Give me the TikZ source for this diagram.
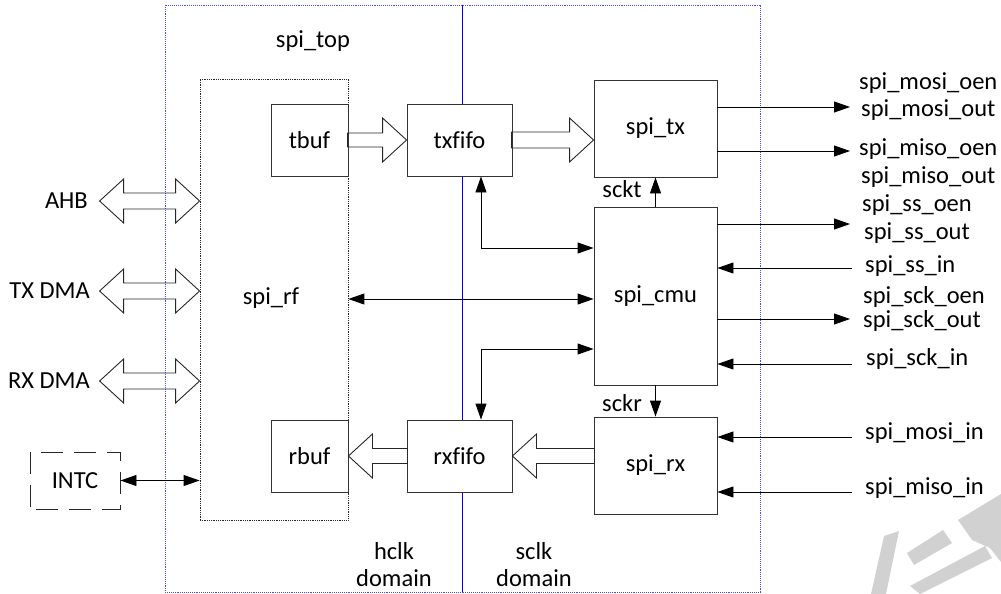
\documentclass[tikz,border=0pt]{standalone}
\usepackage{fontspec}
\setmainfont{Carlito}[Ligatures=NoCommon]
\usetikzlibrary{arrows.meta,calc}
\begin{document}
\begin{tikzpicture}[x=1pt,y=-1pt,
  box/.style={draw=black!80,line width=0.9pt,fill=white,inner sep=0pt},
  lbl/.style={inner sep=0pt,font=\fontsize{24.5}{27}\selectfont},
  arr/.style={line width=0.9pt,-{Triangle[length=16pt,width=11pt]}},
  dbl/.style={line width=0.9pt,{Triangle[length=16pt,width=11pt]}-{Triangle[length=16pt,width=11pt]}},
  fat/.style={draw=black!85,line width=0.9pt,line join=miter},
  font=\fontsize{24.5}{27}\selectfont]
\useasboundingbox (0,0) rectangle (1001,594);
% watermark
\fill[black!18] (884,536) -- (899,531) -- (886,594) -- (871,594) -- cycle;
\fill[black!18] (907,553) -- (943,530) -- (952,543) -- (914,565) -- cycle;
\fill[black!18] (910,586) -- (985,546) -- (992,558) -- (920,594) -- cycle;
\fill[black!18] (958,520) -- (1001,494) -- (1001,562) -- (990,548) -- (972,540) -- cycle;
% clock domains
\draw[blue!70,densely dotted,line width=0.9pt] (165,5) rectangle (760,592);
\draw[blue,line width=0.7pt] (462,5) -- (462,592);
% nodes
\node[draw=black!85,densely dotted,line width=0.8pt,minimum width=148pt,minimum height=441pt,inner sep=0pt] (rf) at (274,299.5) {};
\node[lbl] (rflbl) at (271,298) {spi\_rf};
\node[lbl] (top) at (313,41) {spi\_top};
\node[box,minimum width=77pt,minimum height=72pt] (tbuf) at (309.5,140) {tbuf};
\node[box,minimum width=105pt,minimum height=72pt] (txfifo) at (459.5,140) {txfifo};
\node[box,minimum width=123pt,minimum height=97pt] (tx) at (655.5,128.5) {spi\_tx};
\node[box,minimum width=123pt,minimum height=178pt] (cmu) at (655.5,296) {spi\_cmu};
\node[box,minimum width=123pt,minimum height=97pt] (rx) at (655.5,465.5) {spi\_rx};
\node[box,minimum width=105pt,minimum height=72pt] (rxfifo) at (459.5,456) {rxfifo};
\node[box,minimum width=77pt,minimum height=72pt] (rbuf) at (309.5,456) {rbuf};
\node[draw=black!85,line width=0.9pt,dash pattern=on 22pt off 11pt,dash phase=-6pt,minimum width=90pt,minimum height=57pt,inner sep=0pt] (intc) at (75,480.5) {INTC};
% left labels
\node[lbl,anchor=east] (ahb) at (88,201) {AHB};
\node[lbl,anchor=east] (txdma) at (90,291) {TX DMA};
\node[lbl,anchor=east] (rxdma) at (90,381) {RX DMA};
% domain labels
\node[lbl,align=center] (hclk) at (394,565) {hclk\\domain};
\node[lbl,align=center] (sclk) at (534,565) {sclk\\domain};
% clock labels
\node[lbl] (sckt) at (622,189) {sckt};
\node[lbl] (sckr) at (622,403) {sckr};
% fat arrows
\coordinate (ya) at (0,201);
\coordinate (yb) at (0,291);
\coordinate (yc) at (0,381);
\foreach \c in {ya,yb,yc}{
  \draw[fat] (rf.west |- \c) -- ++(-24,-22) -- ++(0,14) -- ++(-52,0) -- ++(0,-14) -- ++(-24,22)
     -- ++(24,22) -- ++(0,-14) -- ++(52,0) -- ++(0,14) -- cycle;
}
\draw[fat] (txfifo.west) -- ++(-24,-22) -- ++(0,15) -- ++(-35,0) -- ++(0,14) -- ++(35,0) -- ++(0,15) -- cycle;
\draw[fat] (tx.west |- txfifo.east) -- ++(-24,-22) -- ++(0,14) -- ++(-58,0) -- ++(0,16) -- ++(58,0) -- ++(0,14) -- cycle;
\draw[fat] (rbuf.east) -- ++(24,-22) -- ++(0,14.5) -- ++(35,0) -- ++(0,15) -- ++(-35,0) -- ++(0,14.5) -- cycle;
\draw[fat] (rxfifo.east) -- ++(24,-22) -- ++(0,14.5) -- ++(58,0) -- ++(0,15) -- ++(-58,0) -- ++(0,14.5) -- cycle;
% internal connectors
\draw[arr] (cmu.north) -- (tx.south);
\draw[arr] (cmu.south) -- (rx.north);
\coordinate (c1) at (481,248);
\coordinate (c2) at (0,299);
\coordinate (c3) at (481,349);
\draw[dbl] (txfifo.south -| c1) |- (cmu.west |- c1);
\draw[dbl] (rf.east |- c2) -- (cmu.west |- c2);
\draw[dbl] (cmu.west |- c3) -| (rxfifo.north -| c3);
\draw[dbl] (intc.east) -- (rf.west |- intc.east);
% right side signals
\coordinate (o1) at (850,107);
\coordinate (o2) at (850,151);
\coordinate (o3) at (850,224);
\coordinate (i1) at (852,268);
\coordinate (o4) at (850,319);
\coordinate (i2) at (852,364);
\coordinate (i3) at (852,437);
\coordinate (i4) at (852,492);
\draw[arr] (tx.east |- o1) -- (o1);
\draw[arr] (tx.east |- o2) -- (o2);
\draw[arr] (cmu.east |- o3) -- (o3);
\draw[arr] (i1) -- (cmu.east |- i1);
\draw[arr] (cmu.east |- o4) -- (o4);
\draw[arr] (i2) -- (cmu.east |- i2);
\draw[arr] (i3) -- (rx.east |- i3);
\draw[arr] (i4) -- (rx.east |- i4);
\node[lbl,anchor=west] (l1) at (859,83) {spi\_mosi\_oen};
\node[lbl,anchor=west] (l2) at (861,110) {spi\_mosi\_out};
\node[lbl,anchor=west] (l3) at (859,149) {spi\_miso\_oen};
\node[lbl,anchor=west] (l4) at (861,177) {spi\_miso\_out};
\node[lbl,anchor=west] (l5) at (862,205) {spi\_ss\_oen};
\node[lbl,anchor=west] (l6) at (864,233) {spi\_ss\_out};
\node[lbl,anchor=west] (l7) at (865,266) {spi\_ss\_in};
\node[lbl,anchor=west] (l8) at (863,296.5) {spi\_sck\_oen};
\node[lbl,anchor=west] (l9) at (863,320.5) {spi\_sck\_out};
\node[lbl,anchor=west] (l10) at (866,359) {spi\_sck\_in};
\node[lbl,anchor=west] (l11) at (865,433) {spi\_mosi\_in};
\node[lbl,anchor=west] (l12) at (865,488) {spi\_miso\_in};
\end{tikzpicture}
\end{document}
